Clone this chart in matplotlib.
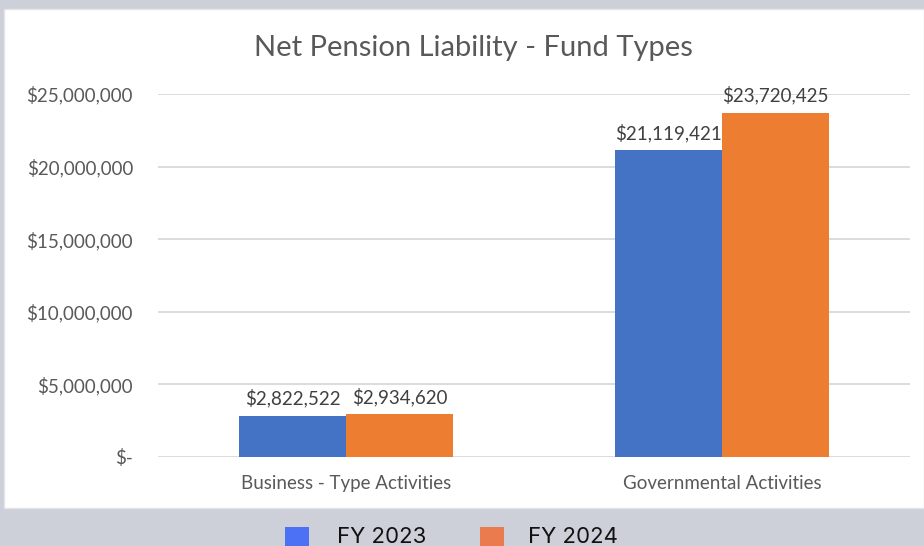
import matplotlib.pyplot as plt
from matplotlib.patches import Rectangle
from matplotlib.ticker import FuncFormatter

categories = ['Business - Type Activities', 'Governmental Activities']
fy2023 = [2822522, 21119421]
fy2024 = [2934620, 23720425]
series_names = ['FY 2023', 'FY 2024']

W, H = 924, 546
fig = plt.figure(figsize=(W / 100, H / 100), dpi=100)
fig.patch.set_facecolor('#CDD0D8')
# white chart panel
fig.patches.append(Rectangle((4 / W, (H - 508) / H), (W - 4) / W, 499 / H,
                             transform=fig.transFigure, facecolor='white',
                             edgecolor='#E4E5E8', lw=1, zorder=-1))

ax = fig.add_axes([158 / W, (H - 457) / H, (910 - 158) / W, (457 - 94) / H])
ax.set_facecolor('none')

x = range(len(categories))
w = 0.285
b1 = ax.bar([i - w / 2 for i in x], fy2023, w, color='#4472C4', zorder=2)
b2 = ax.bar([i + w / 2 for i in x], fy2024, w, color='#ED7D31', zorder=2)

for bars, vals in ((b1, fy2023), (b2, fy2024)):
    for r, v in zip(bars, vals):
        ax.annotate(f'${v:,.0f}', (r.get_x() + r.get_width() / 2, v),
                    xytext=(0, 6), textcoords='offset points', ha='center',
                    va='bottom', fontsize=13.5, color='#404040',
                    family='Lato', annotation_clip=False)

ax.set_xlim(-0.5, 1.5)
ax.set_ylim(0, 25000000)
ax.set_yticks(range(0, 25000001, 5000000))
ax.yaxis.set_major_formatter(FuncFormatter(
    lambda v, p: '$-' if v == 0 else f'${v:,.0f}'))
ax.set_xticks(list(x))
ax.set_xticklabels(categories)
ax.grid(axis='y', color='#D9D9D9', lw=1.3, zorder=0)
for s in ax.spines.values():
    s.set_visible(False)
ax.tick_params(length=0)
ax.tick_params(axis='y', pad=18, labelsize=13.5, labelcolor='#595959')
ax.tick_params(axis='x', pad=13, labelsize=13.5, labelcolor='#595959')
for t in ax.get_yticklabels() + ax.get_xticklabels():
    t.set_family('Lato')

fig.text(473 / W, (H - 48) / H, 'Net Pension Liability - Fund Types',
         ha='center', va='center', fontsize=21, color='#595959',
         family='Lato')

# legend in the grey band
leg_cols = ['#4D71F5', '#E97B4F']
for xs, xt, c, name in ((285, 337, leg_cols[0], series_names[0]),
                        (480, 528, leg_cols[1], series_names[1])):
    fig.patches.append(Rectangle((xs / W, -20 / H), 24 / W, (H - 527 + 20) / H,
                                 transform=fig.transFigure, facecolor=c,
                                 edgecolor='none'))
    fig.text(xt / W, 3 / H, name, ha='left', va='baseline', fontsize=16,
             color='#111111', family='Inter')

fig.savefig('out.png', dpi=100)
